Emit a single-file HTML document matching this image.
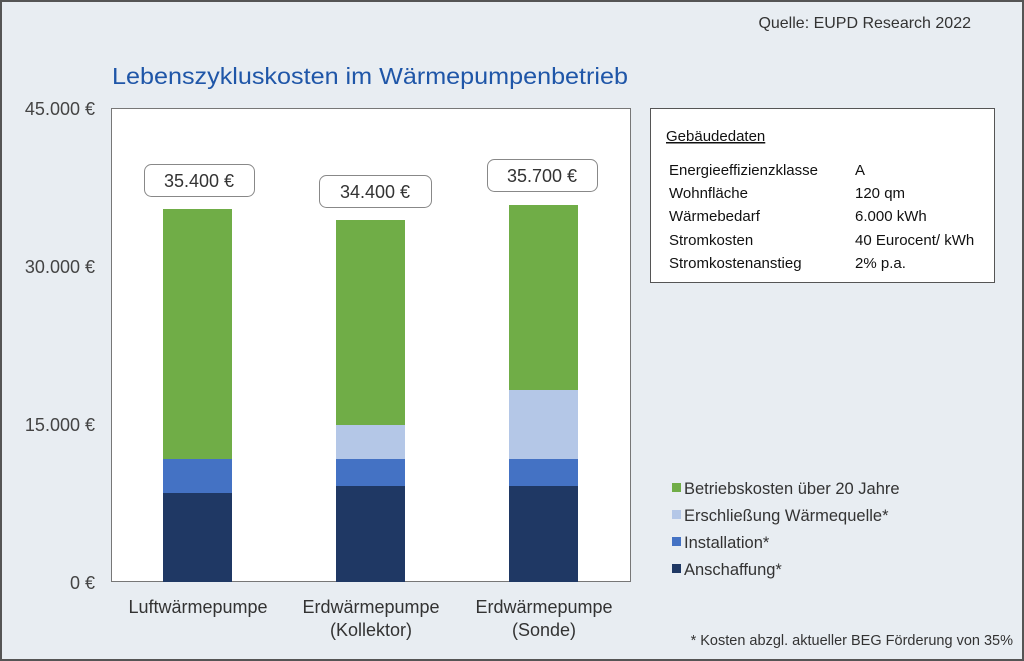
<!DOCTYPE html>
<html><head><meta charset="utf-8"><style>
html,body{margin:0;padding:0;background:#e8edf2;}
svg{display:block;font-family:"Liberation Sans",Arial,sans-serif;}
</style></head><body>
<svg width="1024" height="661" viewBox="0 0 1024 661" xmlns="http://www.w3.org/2000/svg">
<rect x="1" y="1" width="1022" height="659" fill="#e8edf2" stroke="#555" stroke-width="2"/>
<text x="971" y="28" font-size="16" fill="#333" text-anchor="end">Quelle: EUPD Research 2022</text>
<text x="112" y="84" font-size="23" fill="#1f56a8" textLength="516" lengthAdjust="spacingAndGlyphs">Lebenszykluskosten im Wärmepumpenbetrieb</text>
<rect x="111.5" y="108.5" width="519" height="473" fill="#fff" stroke="#777" stroke-width="1"/>
<g font-size="18" fill="#444" text-anchor="end">
<text x="95" y="115">45.000 €</text>
<text x="95" y="273">30.000 €</text>
<text x="95" y="431">15.000 €</text>
<text x="95" y="589">0 €</text>
</g>
<rect x="163" y="209" width="69" height="250" fill="#70ad47"/>
<rect x="163" y="459" width="69" height="34" fill="#4472c4"/>
<rect x="163" y="493" width="69" height="89" fill="#1f3864"/>
<rect x="336" y="220" width="69" height="205" fill="#70ad47"/>
<rect x="336" y="425" width="69" height="34" fill="#b4c7e7"/>
<rect x="336" y="459" width="69" height="27" fill="#4472c4"/>
<rect x="336" y="486" width="69" height="96" fill="#1f3864"/>
<rect x="509" y="205" width="69" height="185" fill="#70ad47"/>
<rect x="509" y="390" width="69" height="69" fill="#b4c7e7"/>
<rect x="509" y="459" width="69" height="27" fill="#4472c4"/>
<rect x="509" y="486" width="69" height="96" fill="#1f3864"/>
<g font-size="18" fill="#333" text-anchor="middle">
<rect x="144.5" y="164.5" width="110" height="32" rx="7" fill="#fff" stroke="#888"/>
<text x="199" y="187">35.400 €</text>
<rect x="319.5" y="175.5" width="112" height="32" rx="7" fill="#fff" stroke="#888"/>
<text x="375" y="198">34.400 €</text>
<rect x="487.5" y="159.5" width="110" height="32" rx="7" fill="#fff" stroke="#888"/>
<text x="542" y="182">35.700 €</text>
</g>
<g font-size="18" fill="#333" text-anchor="middle">
<text x="198" y="613">Luftwärmepumpe</text>
<text x="371" y="613">Erdwärmepumpe</text>
<text x="371" y="636">(Kollektor)</text>
<text x="544" y="613">Erdwärmepumpe</text>
<text x="544" y="636">(Sonde)</text>
</g>
<rect x="650.5" y="108.5" width="344" height="174" fill="#fff" stroke="#555"/>
<g font-size="15" fill="#111">
<text x="666" y="141" text-decoration="underline">Gebäudedaten</text>
<text x="669" y="175">Energieeffizienzklasse</text><text x="855" y="175">A</text>
<text x="669" y="198">Wohnfläche</text><text x="855" y="198">120 qm</text>
<text x="669" y="221">Wärmebedarf</text><text x="855" y="221">6.000 kWh</text>
<text x="669" y="245">Stromkosten</text><text x="855" y="245">40 Eurocent/ kWh</text>
<text x="669" y="268">Stromkostenanstieg</text><text x="855" y="268">2% p.a.</text>
</g>
<g font-size="16.5" fill="#333">
<rect x="672" y="483" width="9" height="9" fill="#70ad47"/><text x="684" y="494">Betriebskosten über 20 Jahre</text>
<rect x="672" y="510" width="9" height="9" fill="#b4c7e7"/><text x="684" y="521">Erschließung Wärmequelle*</text>
<rect x="672" y="537" width="9" height="9" fill="#4472c4"/><text x="684" y="548">Installation*</text>
<rect x="672" y="564" width="9" height="9" fill="#1f3864"/><text x="684" y="575">Anschaffung*</text>
</g>
<text x="1013" y="645" font-size="14.5" fill="#333" text-anchor="end">* Kosten abzgl. aktueller BEG Förderung von 35%</text>
</svg>
</body></html>
